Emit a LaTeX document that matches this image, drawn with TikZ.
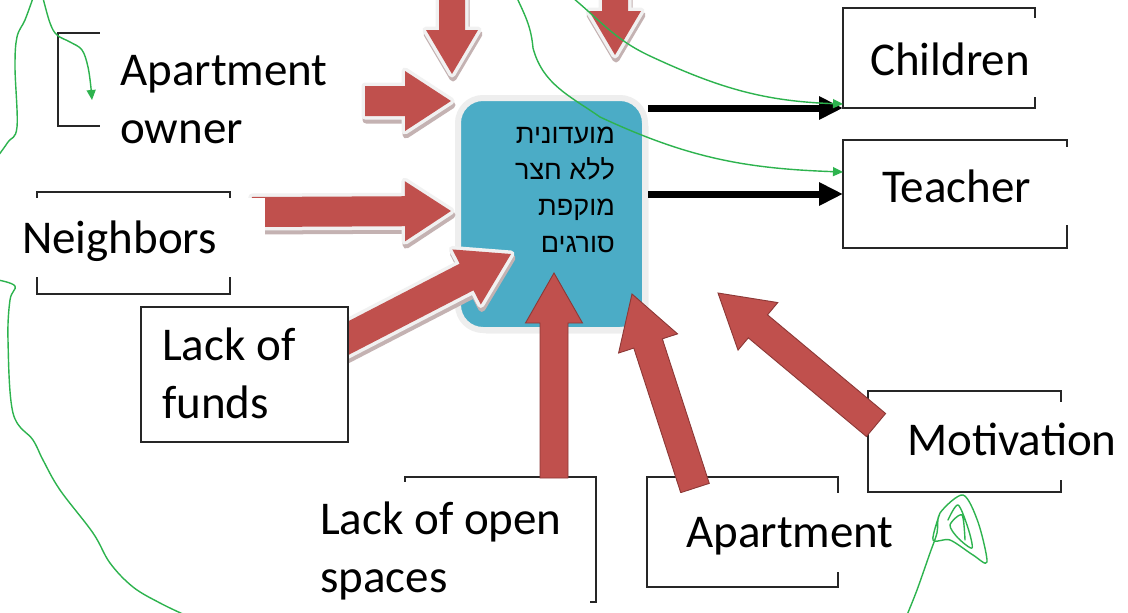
\documentclass[tikz,border=0pt]{standalone}
\usepackage{fontspec}
\setmainfont{Carlito}
\newfontfamily\hebfont[Script=Hebrew]{Liberation Sans}
\TeXXeTstate=1
\usetikzlibrary{calc,arrows.meta,shadows}

\definecolor{hubblue}{HTML}{4BACC6}
\definecolor{hubrim}{HTML}{EEEEEE}
\definecolor{arrowred}{HTML}{C0504D}
\definecolor{arrowedge}{HTML}{8C3836}
\definecolor{rim}{HTML}{F1F1F1}
\definecolor{rimshade}{HTML}{C4B2B2}
\definecolor{pen}{HTML}{2DB34E}

% Block arrow from #2 (tail) to #3 (tip): shaft width #4, head width #5, head length #6
\newcommand{\blockarrow}[6][]{%
  \pgfmathsetmacro\baRH{sqrt((#6)^2+((#5)/2)^2)}%
  \pgfmathsetmacro\baAH{atan(((#5)/2)/(#6))}%
  \pgfmathsetmacro\baRS{sqrt((#6)^2+((#4)/2)^2)}%
  \pgfmathsetmacro\baAS{atan(((#4)/2)/(#6))}%
  \pgfmathsetmacro\baHW{(#4)/2}%
  \path[#1] ($(#2)!\baHW pt!90:(#3)$) -- ($(#3)!\baRS pt!-\baAS:(#2)$)
    -- ($(#3)!\baRH pt!-\baAH:(#2)$) -- (#3) -- ($(#3)!\baRH pt!\baAH:(#2)$)
    -- ($(#3)!\baRS pt!\baAS:(#2)$) -- ($(#2)!\baHW pt!-90:(#3)$) -- cycle;}

% Block arrow with a light rim and a soft shade underneath
\newcommand{\rimarrow}[5]{%
  \begin{scope}[transform canvas={shift={(1pt,-4pt)}}]
    \blockarrow[fill=rimshade,draw=rimshade,line width=7pt,line join=round]{#1}{#2}{#3}{#4}{#5}
  \end{scope}
  \blockarrow[fill=rim,draw=rim,line width=7pt,line join=round]{#1}{#2}{#3}{#4}{#5}
  \blockarrow[fill=arrowred]{#1}{#2}{#3}{#4}{#5}}

% Block arrow with a thin dark edge
\newcommand{\edgearrow}[5]{%
  \blockarrow[fill=arrowred,draw=arrowedge,line width=0.9pt,line join=miter]{#1}{#2}{#3}{#4}{#5}}

\begin{document}
\begin{tikzpicture}[x=1pt,y=-1pt,
  box/.style={draw=black!85,line width=1.3pt,fill=white,inner sep=0pt,outer sep=0pt,anchor=north west},
  lbl/.style={font=\fontsize{47}{58}\selectfont,inner sep=0pt,align=left,anchor=base west},
  hubbox/.style={fill=hubblue,draw=hubrim,line width=6pt,rounded corners=25pt,inner sep=0pt,
    drop shadow={shadow xshift=3pt,shadow yshift=-3pt,fill=black!30,opacity=0.8}},
  hebtext/.style={font=\hebfont\fontsize{27}{36.3}\selectfont,inner sep=0pt,align=right,anchor=base east},
  blk/.style={draw=black,line width=7pt,-{Triangle[width=22pt,length=24pt]}},
  penline/.style={draw=pen,line width=1.4pt,line cap=round,line join=round},
  penarrow/.style={penline,-{Triangle[width=9pt,length=10pt]}}]

% canvas
\useasboundingbox (0,0) rectangle (1128,613);
\fill[white] (0,0) rectangle (1128,613);

% outer boxes
\node[box,minimum width=250pt,minimum height=93pt] (ownerbox) at (58,33) {};
\node[box,minimum width=193pt,minimum height=102pt] (nbbox) at (37,192) {};
\node[box,minimum width=191pt,minimum height=125pt] (openbox) at (405,477) {};
\node[box,minimum width=191pt,minimum height=110pt] (aptbox) at (647,477) {};
\node[box,minimum width=193pt,minimum height=101pt] (motbox) at (868,391) {};
\node[box,minimum width=192pt,minimum height=100pt] (chbox) at (843,8) {};
\node[box,minimum width=224pt,minimum height=108pt] (tbox) at (843,140) {};

% central block (base anchor of a multi-line node sits on its last line)
\node[hubbox,minimum width=187pt,minimum height=232pt] (hub) at (551.5,214) {};
\node[hebtext] (hubtxt) at (615,252)
  {\beginR מועדונית\endR\\ \beginR ללא חצר\endR\\ \beginR מוקפת\endR\\ \beginR סורגים\endR};

% arrow ends
\coordinate (topAs) at (452,-12); \coordinate (topAe) at (452,74);
\coordinate (topBs) at (615,-12); \coordinate (topBe) at (615,55);
\coordinate (ownS) at (365,101);  \coordinate (ownE) at (451,101);
\coordinate (nbS) at (252,212);   \coordinate (nbE) at (451,211);
\coordinate (fdS) at (335,345);   \coordinate (fdE) at (511,254);
\coordinate (opS) at (554,478);   \coordinate (opE) at (554,273);
\coordinate (apS) at (695,488);   \coordinate (apE) at (632,294);
\coordinate (mvS) at (876,425);   \coordinate (mvE) at (718,293);

% influences pointing into the block
\rimarrow{topAs}{topAe}{26}{52}{44}
\rimarrow{topBs}{topBe}{26}{52}{44}
\rimarrow{ownS}{ownE}{30}{60}{46}
\rimarrow{nbS}{nbE}{30}{60}{46}
\rimarrow{fdS}{fdE}{30}{62}{50}
\edgearrow{opS}{opE}{28}{57}{50}
\edgearrow{apS}{apE}{30}{62}{52}
\edgearrow{mvS}{mvE}{30}{62}{52}

\node[box,minimum width=207pt,minimum height=135pt] (fundsbox) at (141,307) {};

% white label panels
\fill[white] (100,22) rectangle (350,160);
\fill[white] (0,198) rectangle (265,277);
\fill[white] (300,482) rectangle (590,613);
\fill[white] (662,493) rectangle (925,572);
\fill[white] (892,402) rectangle (1128,480);
\fill[white] (858,18) rectangle (1045,97);
\fill[white] (858,147) rectangle (1078,225);

% labels
\node[lbl] (ownerlbl) at (120,143) {Apartment\\owner};
\node[lbl] (nblbl) at (22,253) {Neighbors};
\node[lbl] (fundslbl) at (162,418) {Lack of\\funds};
\node[lbl] (openlbl) at (320,592) {Lack of open\\spaces};
\node[lbl] (aptlbl) at (686,547) {Apartment};
\node[lbl] (motlbl) at (907,455) {Motivation};
\node[lbl] (chlbl) at (870,75) {Children};
\node[lbl] (tlbl) at (882,202) {Teacher};

% outputs of the block
\draw[blk] (hub.east |- chbox.south west) -- (chbox.south west);
\draw[blk] (hub.east |- tbox.west) -- (tbox.west);

% hand-drawn pen strokes
\draw[penline] plot[smooth,tension=0.6] coordinates
  {(33,-2) (25,20) (17,37) (15,67) (17,127) (8,142) (-2,156)};
\draw[penline] plot[smooth,tension=0.6] coordinates
  {(-2,280) (15,286) (10,300) (8,340) (13,413) (33,440) (43,460) (60,490) (93,533) (110,563) (133,587) (160,603) (185,615)};
\draw[penarrow] plot[smooth,tension=0.6] coordinates
  {(43,-2) (50,23) (57,35) (70,42) (82,50) (88,67) (91,88)} -- (92,100);
\draw[penarrow] (573,-2) to[out=-40,in=155] (650,56) to[out=-25,in=178] ([yshift=4pt]chbox.south west);
\draw[penarrow] (517,-2) to[out=-65,in=95] (533,48) to[out=-75,in=145] (600,117)
  to[out=-25,in=178] ([yshift=22pt]tbox.west);
\draw[penline] plot[smooth,tension=0.5] coordinates
  {(907,615) (917,590) (930,553) (937,533) (940,513) (963,495) (978,522) (987,562) (973,555) (950,540) (933,540) (940,513)};
\draw[penline] plot[smooth,tension=0.5] coordinates
  {(948,520) (958,505) (968,528) (972,548) (958,538) (950,525) (962,515) (965,540)};
\end{tikzpicture}
\end{document}
